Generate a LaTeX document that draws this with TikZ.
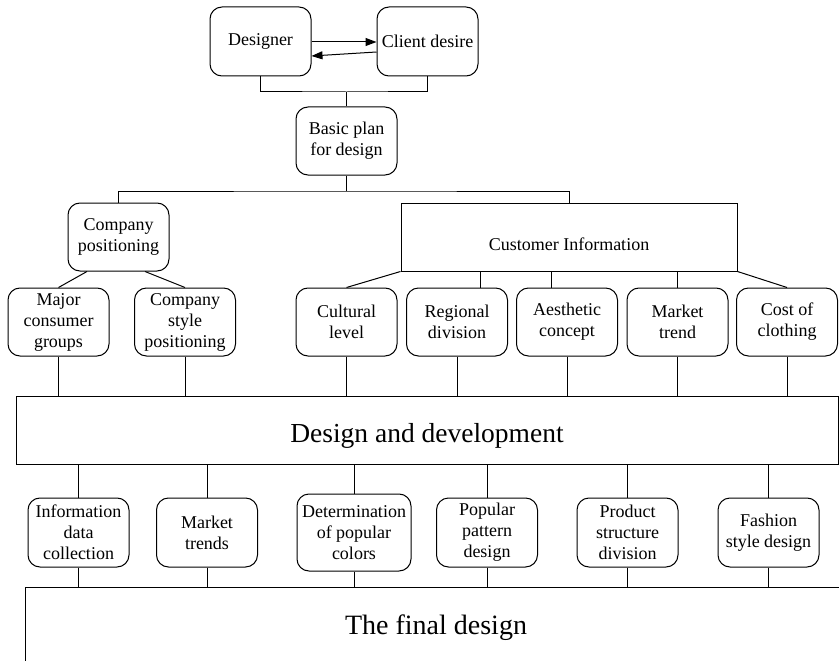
\documentclass[tikz,border=0pt]{standalone}
\usepackage{fontspec}
\setmainfont{Liberation Serif}
\usetikzlibrary{arrows.meta,calc}
\begin{document}
\begin{tikzpicture}[x=1pt,y=-1pt,
  every node/.style={font=\fontsize{18}{21}\selectfont, inner sep=0pt, align=center},
  rbox/.style={draw, line width=1pt, rounded corners=12pt, minimum width=101pt, minimum height=68pt},
  sbox/.style={draw, line width=1pt},
  conn/.style={line width=1pt},
  arr/.style={line width=1pt, -{Triangle[length=11pt,width=8pt]}}]
\useasboundingbox (0,0) rectangle (839,661);
\begin{scope}
\clip (0,0) rectangle (839,661);
% top
\node[rbox, minimum height=69pt] (des) at (260.5,41.5) {Designer};
\node[rbox, minimum height=69pt] (cli) at (427.5,41.5) {Client desire};
\node[rbox] (plan) at (346.5,141) {Basic plan\\for design};
% level 2
\node[rbox] (cpos) at (118.5,237) {Company\\positioning};
\node[sbox, minimum width=336pt, minimum height=68pt, align=none, text height=26pt, text depth=0pt] (cinfo) at (569,237) {Customer Information};
% level 3
\node[rbox] (major) at (58.5,322) {Major\\consumer\\groups};
\node[rbox] (cstyle) at (185,322) {Company\\style\\positioning};
\node[rbox] (cult) at (346.5,322) {Cultural\\level};
\node[rbox] (reg) at (457,322) {Regional\\division};
\node[rbox] (aes) at (567,322) {Aesthetic\\concept};
\node[rbox] (mkt) at (677.5,322) {Market\\trend};
\node[rbox] (cost) at (787,322) {Cost of\\clothing};
% design and development
\node[sbox, minimum width=822pt, minimum height=68pt, align=none, text height=24pt, text depth=0pt, font=\fontsize{27.5}{32}\selectfont] (dd) at (427,430) {Design and development};
% level 5
\node[rbox, minimum height=69pt] (info) at (78.5,532.5) {Information\\data\\collection};
\node[rbox, minimum height=69pt] (mtr) at (207,532.5) {Market\\trends};
\node[rbox, minimum width=114pt, minimum height=77pt] (det) at (354,532.5) {Determination\\of popular\\colors};
\node[rbox, minimum height=69pt] (pop) at (487,532.5) {Popular\\pattern\\design};
\node[rbox, minimum height=69pt] (prod) at (627.5,532.5) {Product\\structure\\division};
\node[rbox, minimum height=69pt] (fash) at (768.5,532.5) {Fashion\\style design};
% final
\node[sbox, minimum width=822pt, minimum height=76pt, align=none, text height=19pt, text depth=0pt, font=\fontsize{28}{32}\selectfont] (final) at (436,625) {The final design};

% arrows
\draw[arr] ($(des.east)+(0,0.5)$) -- ($(cli.west)+(0,0.5)$);
\draw[arr] ($(cli.west)+(0,10.5)$) -- ($(des.east)+(0,14.5)$);
% connectors top
\coordinate (j1) at (346.5,92);
\draw[conn] (des.south) |- (j1) -| (cli.south);
\draw[conn] (j1) -- (plan.north);
\coordinate (j2) at (346.5,191);
\draw[conn] (plan.south) -- (j2);
\draw[conn] (cpos.north) |- (j2) -| (cinfo.north);
% company positioning children
\draw[conn] ($(cpos.south)+(-31.5,0)$) -- (major.north);
\draw[conn] ($(cpos.south)+(26.5,0)$) -- (cstyle.north);
% customer info children
\draw[conn] (cinfo.south west) -- (cult.north);
\path (reg.north) ++(23.7,0) coordinate (rt);
\draw[conn] (rt) -- (rt |- cinfo.south);
\path (aes.north) ++(-15.3,0) coordinate (at);
\draw[conn] (at) -- (at |- cinfo.south);
\draw[conn] (mkt.north) -- (mkt.north |- cinfo.south);
\draw[conn] (cinfo.south east) -- (cost.north);
% to design and development
\foreach \n in {major,cstyle,cult,reg,aes,mkt,cost}
  \draw[conn] (\n.south) -- (\n.south |- dd.north);
% from design and development to final
\foreach \n in {info,mtr,det,pop,prod,fash} {
  \draw[conn] (\n.north |- dd.south) -- (\n.north);
  \draw[conn] (\n.south) -- (\n.south |- final.north);
}
\end{scope}
\end{tikzpicture}
\end{document}
